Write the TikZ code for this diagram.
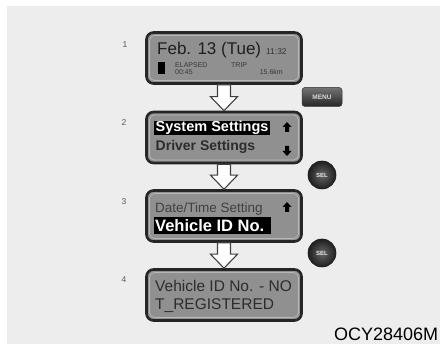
\documentclass[tikz,border=0pt]{standalone}
\usepackage{fontspec}
\setmainfont{Liberation Sans}
\usetikzlibrary{calc}
\definecolor{bg}{HTML}{EDEDED}
\definecolor{lcdfill}{HTML}{909090}
\definecolor{lcdrim}{HTML}{B8B8B8}
\definecolor{lcdborder}{HTML}{262626}
\definecolor{lcdtext}{HTML}{2C2C2C}
\newcommand\fs[1]{\fontsize{#1}{#1}\selectfont}
\newcommand\hollowarrow[2]{%
  \draw[hollowarr] ($(#1.south)+(-6.5,0)$) -- ($(#1.south)+(6.5,0)$)
    -- ($(#2.north)+(6.5,-14)$) -- ($(#2.north)+(13.5,-14)$) -- (#2.north)
    -- ($(#2.north)+(-13.5,-14)$) -- ($(#2.north)+(-6.5,-14)$) -- cycle;}
\newcommand\uparr[1]{%
  \fill[black] ($(#1)+(0,-5)$) -- ($(#1)+(4.5,0)$) -- ($(#1)+(2,0)$) -- ($(#1)+(2,5)$)
    -- ($(#1)+(-2,5)$) -- ($(#1)+(-2,0)$) -- ($(#1)+(-4.5,0)$) -- cycle;}
\newcommand\downarr[1]{%
  \fill[black] ($(#1)+(0,5)$) -- ($(#1)+(4.5,0)$) -- ($(#1)+(2,0)$) -- ($(#1)+(2,-5)$)
    -- ($(#1)+(-2,-5)$) -- ($(#1)+(-2,0)$) -- ($(#1)+(-4.5,0)$) -- cycle;}
\tikzset{
  panel/.style={draw=lcdborder, line width=2.6pt, fill=lcdfill, rounded corners=7pt,
    minimum width=155pt, minimum height=51pt, inner sep=0pt},
  panelrim/.style={draw=lcdrim, line width=0.7pt, rounded corners=5pt,
    minimum width=149pt, minimum height=45pt, inner sep=0pt},
  hollowarr/.style={draw=black!75, line width=1.1pt, fill=white, line join=miter},
  stepnum/.style={text=black!65, font=\fs{8.5}, inner sep=0pt},
  hilite/.style={fill=black, draw=none},
  menubtn/.style={rounded corners=3pt, top color=black!55, bottom color=black!85,
    draw=black!80, line width=0.5pt, minimum width=40pt, minimum height=19pt,
    text=black!15, font=\bfseries\fs{6.5}, inner sep=0pt},
  selbtn/.style={circle, inner color=black!60, outer color=black!88, draw=black!90,
    line width=0.6pt, minimum size=28pt, inner sep=0pt, text=black!10,
    font=\bfseries\fs{6}},
  lcdsmall/.style={text=black!78, font=\fs{7}, inner sep=0pt},
}
\begin{document}
\begin{tikzpicture}[x=1pt,y=-1pt]
\useasboundingbox (0,0) rectangle (440,344);
\fill[white] (0,0) rectangle (440,344);
\fill[bg] (7,6) rectangle (440,344);

% panels
\node[panel] (p1) at (224,58) {};
\node[panel] (p2) at (224,137.5) {};
\node[panel] (p3) at (224,216) {};
\node[panel] (p4) at (224,295) {};
\node[panelrim] (p1r) at (p1.center) {};
\node[panelrim] (p2r) at (p2.center) {};
\node[panelrim] (p3r) at (p3.center) {};
\node[panelrim] (p4r) at (p4.center) {};

% step numbers
\node[stepnum] (n1) at (125,45) {1};
\node[stepnum] (n2) at (124,123) {2};
\node[stepnum] (n3) at (124,202) {3};
\node[stepnum] (n4) at (124,280) {4};

% hollow arrows
\hollowarrow{p1}{p2}
\hollowarrow{p2}{p3}
\hollowarrow{p3}{p4}

% panel 1
\node[anchor=base west, inner sep=0pt, text=black!88, font=\fs{17}] (t1) at (157,55) {Feb. 13 (Tue)};
\node[anchor=base west, inner sep=0pt, text=black!80, font=\fs{8.4}] (t1b) at (266,55) {11:32};
\fill[black] (158,62) rectangle (165,74);
\node[lcdsmall, anchor=base west] (t1c) at (175,68) {ELAPSED};
\node[lcdsmall, anchor=base west] (t1d) at (175,75) {00:45};
\node[lcdsmall, anchor=base west] (t1e) at (231,68) {TRIP};
\node[lcdsmall, anchor=base east] (t1f) at (283,75) {15.6km};

% panel 2
\fill[hilite] (154,121) rectangle (270,135.5);
\node[anchor=base west, inner sep=0pt, text=white, font=\bfseries\fs{14.5}] (t2a) at (155.5,132) {System Settings};
\node[anchor=base west, inner sep=0pt, text=lcdtext, font=\bfseries\fs{14}] (t2b) at (155.5,151) {Driver Settings};
\coordinate (u2) at (287,127);
\coordinate (d2) at (287,151);
\uparr{u2}
\downarr{d2}

% panel 3
\node[anchor=base west, inner sep=0pt, text=black!75, font=\fs{13.5}] (t3a) at (155,213) {Date/Time Setting};
\coordinate (u3) at (287,207);
\uparr{u3}
\fill[hilite] (154,217) rectangle (271,234.5);
\node[anchor=base west, inner sep=0pt, text=white, font=\bfseries\fs{16.5}] (t3b) at (155,231.5) {Vehicle ID No.};

% panel 4
\node[anchor=base west, inner sep=0pt, text=lcdtext, font=\fs{15.5}] (t4a) at (155,292) {Vehicle ID No. - NO};
\node[anchor=base west, inner sep=0pt, text=lcdtext, font=\fs{15.5}] (t4b) at (155,309.5) {T\_REGISTERED};

% buttons
\node[menubtn] (menu) at (322,97) {MENU};
\node[selbtn] (sel1) at (322,175) {SEL};
\node[selbtn] (sel2) at (322,253) {SEL};

% code
\node[anchor=base west, inner sep=0pt, text=black, font=\fs{18}] (code) at (334,340.5) {OCY28406M};
\end{tikzpicture}
\end{document}
